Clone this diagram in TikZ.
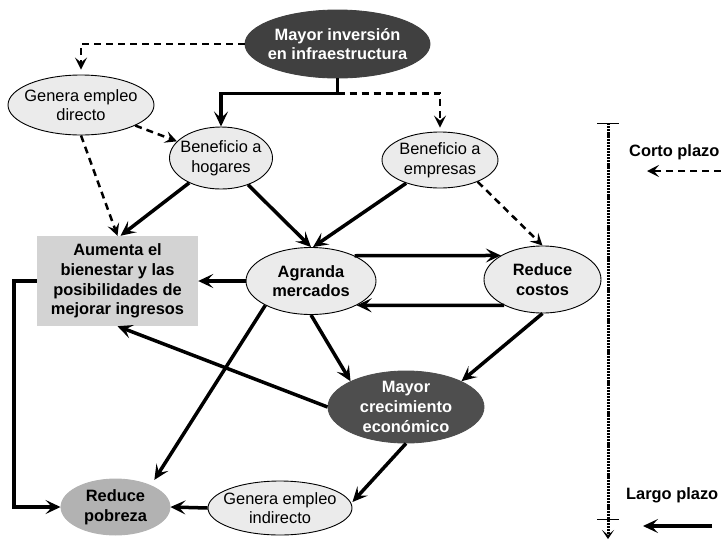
\documentclass[tikz,border=0pt]{standalone}
\usepackage{fontspec}
\setmainfont{Liberation Sans}
\usetikzlibrary{arrows.meta,shapes.geometric}
\definecolor{liteg}{RGB}{235,235,235}
\definecolor{darkA}{RGB}{64,64,64}
\definecolor{darkB}{RGB}{78,78,78}
\definecolor{aumg}{RGB}{211,211,211}
\definecolor{pobg}{RGB}{178,178,178}
\newcommand{\fs}{\fontsize{16.4pt}{19.7pt}\selectfont}
\tikzset{
  base/.style={ellipse, inner sep=0pt, line width=0.9pt},
  liteell/.style={base, draw=black, fill=liteg},
  darkell/.style={base, draw=#1, fill=#1},
  txt/.style={font=\fs, align=center},
  btxt/.style={font=\fs\bfseries, align=center},
  wtxt/.style={font=\fs\bfseries, align=center, text=white},
  solidarr/.style={line width=3.5pt, -{Stealth[length=15pt,width=14pt,inset=6.5pt]}},
  dasharr/.style={line width=2.5pt, dash pattern=on 7pt off 5pt, -{Stealth[length=12pt,width=12pt,inset=5pt]}},
}
\begin{document}
\begin{tikzpicture}[x=1pt,y=-1pt]
\useasboundingbox (0,0) rectangle (721,539);
% nodes
\node[darkell=darkA, minimum width=185pt, minimum height=68pt,
  label={[wtxt]center:Mayor inversión\\en infraestructura}] (inv) at (337.5,44) {};
\node[liteell, minimum width=146pt, minimum height=60pt,
  label={[txt]center:Genera empleo\\directo}] (ged) at (81,105) {};
\node[liteell, minimum width=103pt, minimum height=62pt,
  label={[txt]center:Beneficio a\\hogares}] (hog) at (221,158) {};
\node[liteell, minimum width=116pt, minimum height=56pt,
  label={[txt]center:Beneficio a\\empresas}] (emp) at (440,160) {};
\node[fill=aumg, inner sep=0pt, minimum width=161pt, minimum height=90pt, btxt] (aum) at (117.5,281)
  {Aumenta el\\bienestar y las\\posibilidades de\\mejorar ingresos};
\node[liteell, minimum width=130pt, minimum height=67pt,
  label={[btxt]center:Agranda\\mercados}] (agr) at (311,281) {};
\node[liteell, minimum width=117pt, minimum height=67pt,
  label={[btxt]center:Reduce\\costos}] (red) at (542.5,279.5) {};
\node[darkell=darkB, minimum width=156pt, minimum height=72pt,
  label={[wtxt]center:Mayor\\crecimiento\\económico}] (crec) at (406,407) {};
\node[darkell=pobg, minimum width=109pt, minimum height=56pt,
  label={[btxt]center:Reduce\\pobreza}] (pob) at (115.5,507) {};
\node[liteell, minimum width=144pt, minimum height=54pt,
  label={[txt]center:Genera empleo\\indirecto}] (ind) at (280,508) {};
% connectors
\draw[dasharr] (inv.west) -| ([yshift=5pt]ged.north);
\draw[solidarr] (inv.south) -- ++(0,15) coordinate (j1) -| (hog.north);
\draw[dasharr] (j1) -| ([yshift=4pt]emp.north);
\draw[dasharr] (ged) -- (hog);
\draw[dasharr] (ged.south) -- (aum.north);
\draw[solidarr] (hog.-142) -- ([xshift=3pt]aum.north);
\draw[solidarr] (hog) -- (agr.north);
\draw[solidarr] (emp) -- ([xshift=2pt]agr.north);
\draw[dasharr] (emp.-30) -- (red.north);
\draw[solidarr] (agr.30) -- (red.150);
\draw[solidarr] (red.214) -- (agr.-28);
\draw[solidarr] (agr.west) -- (aum.east);
\draw[solidarr] (agr.208) -- ([yshift=7pt]pob.north east);
\draw[solidarr] (agr.south) -- (crec.north west);
\draw[solidarr] (red.south) -- (crec.north east);
\draw[solidarr] (crec.west) -- (aum.south);
\draw[solidarr] (crec.south) -- ([yshift=6pt]ind.east);
\draw[solidarr] (ind.west) -- (pob.east);
\draw[solidarr] (aum.west) -- ++(-23,0) |- (pob.west);
% legend
\coordinate (dtop) at (608,123);
\coordinate (dbot) at (608,539);
\coordinate (tk1a) at (597,123); \coordinate (tk1b) at (619,123);
\coordinate (tk2a) at (597,519); \coordinate (tk2b) at (619,519);
\draw[line width=3pt, dash pattern=on 2.2pt off 0.9pt, -{Stealth[length=9pt,width=12pt,inset=5pt]}] (dtop) -- (dbot);
\draw[line width=1pt] (tk1a) -- (tk1b);
\draw[line width=1pt] (tk2a) -- (tk2b);
\node[btxt, anchor=west, inner sep=0pt] (corto) at (629,152) {Corto plazo};
\coordinate (cs) at (721,171); \coordinate (ce) at (647,171);
\draw[dasharr, line width=2pt] (cs) -- (ce);
\node[btxt, anchor=west, inner sep=0pt] (largo) at (626,495) {Largo plazo};
\coordinate (ls) at (712,526); \coordinate (le) at (643,526);
\draw[solidarr] (ls) -- (le);
\end{tikzpicture}
\end{document}
